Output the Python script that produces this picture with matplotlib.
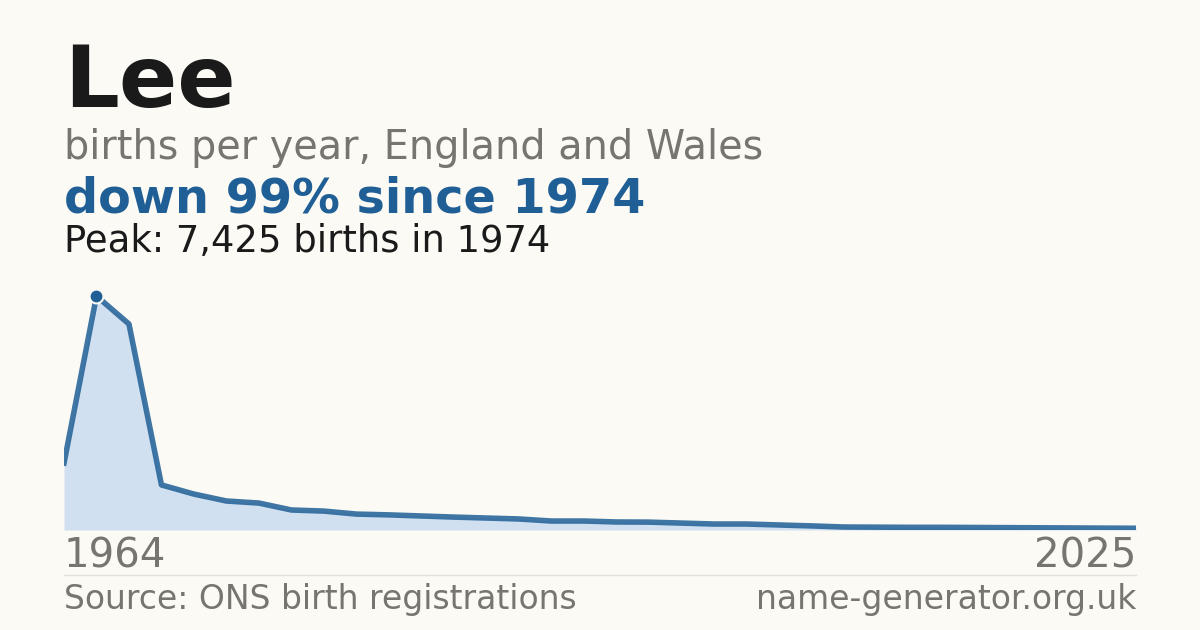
import matplotlib
matplotlib.use("Agg")
import matplotlib.pyplot as plt

values = [2125, 7425, 6535, 1430, 1140, 920, 855, 635, 600, 505, 480, 445, 410, 380,
          350, 285, 285, 255, 250, 220, 190, 190, 160, 130, 95, 90, 85, 85, 80, 75, 70, 65, 60, 55]
xs = list(range(len(values)))
start_label, end_label = "1964", "2025"
peak_idx = 1

BG = "#fbfaf5"
BLUE = "#1f5f96"
fig = plt.figure(figsize=(12, 6.3), dpi=100, facecolor=BG)
ax = fig.add_axes([64/1200, 1-530/630, 1072/1200, 250/630])
ax.set_facecolor(BG)
ax.fill_between(xs, values, 0, color="#d0e0f0", lw=0)
ax.plot(xs, values, color=BLUE, lw=4, alpha=0.85, solid_joinstyle="round")
ax.plot([xs[peak_idx]], [values[peak_idx]], "o", ms=10, color=BLUE, mec=BG, mew=1.5)
ax.set_xlim(0, len(values)-1)
ax.set_ylim(0, 7425*250/234)
ax.axis("off")

fig.text(64/1200, 1-83/630, "Lee", fontsize=62, fontweight="bold", color="#1a1a1a", va="center")
fig.text(64/1200, 1-148/630, "births per year, England and Wales", fontsize=28.6, color="#777570", va="center")
fig.text(64/1200, 1-199/630, "down 99% since 1974", fontsize=34.4, fontweight="bold", color=BLUE, va="center")
fig.text(64/1200, 1-242/630, "Peak: 7,425 births in 1974", fontsize=26.6, color="#1a1a1a", va="center")
fig.text(64/1200, 1-557/630, start_label, fontsize=29, color="#777570", va="center")
fig.text(1136/1200, 1-557/630, end_label, fontsize=29, color="#777570", va="center", ha="right")
fig.add_artist(plt.Line2D([64/1200, 1136/1200], [1-575/630]*2, color="#e2e0da", lw=1))
fig.text(64/1200, 1-600/630, "Source: ONS birth registrations", fontsize=23.8, color="#777570", va="center")
fig.text(1136/1200, 1-600/630, "name-generator.org.uk", fontsize=23.8, color="#777570", va="center", ha="right")
fig.savefig("out.png", facecolor=BG)
